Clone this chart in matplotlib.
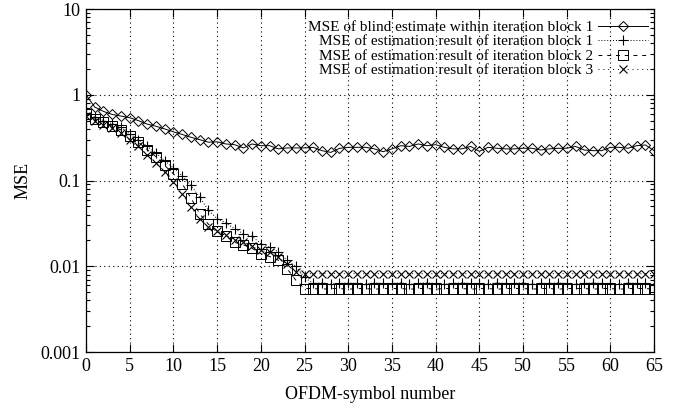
import matplotlib
matplotlib.use("Agg")
import matplotlib.pyplot as plt
from matplotlib.ticker import FixedLocator, FixedFormatter, LogLocator, NullFormatter

plt.rcParams['font.family'] = ['Liberation Serif', 'DejaVu Serif']
plt.rcParams['mathtext.fontset'] = 'stix'

symbols = list(range(66))

blind_block1 = [1.0, 0.72, 0.64, 0.59, 0.565, 0.54, 0.50, 0.455, 0.43, 0.40,
                0.37, 0.345, 0.32, 0.30, 0.28, 0.283, 0.267, 0.262, 0.24, 0.267,
                0.255, 0.255, 0.234, 0.240, 0.240, 0.240, 0.244, 0.223, 0.213, 0.237,
                0.244, 0.244, 0.244, 0.234, 0.217, 0.234, 0.255, 0.25, 0.267, 0.255,
                0.262, 0.244, 0.234, 0.234, 0.25, 0.219, 0.244, 0.238, 0.234, 0.234,
                0.238, 0.238, 0.227, 0.234, 0.238, 0.238, 0.25, 0.227, 0.223, 0.223,
                0.244, 0.244, 0.238, 0.255, 0.26, 0.223]

est_block1 = [0.62, 0.55, 0.50, 0.46, 0.42, 0.35, 0.30, 0.25, 0.21, 0.17,
              0.14, 0.114, 0.088, 0.064, 0.045, 0.036, 0.032, 0.0274, 0.024, 0.0223,
              0.0184, 0.0168, 0.0147, 0.0117, 0.0100, 0.0074, 0.0063, 0.0064, 0.0062, 0.0063,
              0.0064, 0.0063, 0.0062, 0.0064, 0.0063, 0.0063, 0.0064, 0.0062, 0.0063, 0.0064,
              0.0063, 0.0062, 0.0063, 0.0064, 0.0063, 0.0063, 0.0062, 0.0064, 0.0063, 0.0063,
              0.0064, 0.0062, 0.0063, 0.0063, 0.0064, 0.0063, 0.0062, 0.0063, 0.0064, 0.0063,
              0.0063, 0.0062, 0.0064, 0.0063, 0.0063, 0.0062]

est_block2 = [0.60, 0.52, 0.48, 0.43, 0.39, 0.33, 0.28, 0.23, 0.19, 0.15,
              0.12, 0.092, 0.063, 0.041, 0.031, 0.026, 0.0225, 0.019, 0.0178, 0.0162,
              0.014, 0.013, 0.0118, 0.0094, 0.0069, 0.0055, 0.0055, 0.0054, 0.0055, 0.0055,
              0.0054, 0.0055, 0.0055, 0.0054, 0.0055, 0.0055, 0.0055, 0.0054, 0.0055, 0.0055,
              0.0054, 0.0055, 0.0055, 0.0055, 0.0054, 0.0055, 0.0055, 0.0054, 0.0055, 0.0055,
              0.0055, 0.0054, 0.0055, 0.0055, 0.0054, 0.0055, 0.0055, 0.0055, 0.0054, 0.0055,
              0.0055, 0.0054, 0.0055, 0.0055, 0.0055, 0.0054]

est_block3 = [0.57, 0.50, 0.45, 0.41, 0.36, 0.30, 0.25, 0.20, 0.16, 0.125,
              0.095, 0.07, 0.049, 0.036, 0.0287, 0.0257, 0.0229, 0.0204, 0.0192, 0.0171,
              0.0153, 0.0147, 0.0128, 0.0105, 0.0086, 0.0082, 0.0082, 0.0082, 0.0082, 0.0082,
              0.0082, 0.0082, 0.0082, 0.0082, 0.0082, 0.0082, 0.0082, 0.0082, 0.0082, 0.0082,
              0.0082, 0.0082, 0.0082, 0.0082, 0.0082, 0.0082, 0.0082, 0.0082, 0.0082, 0.0082,
              0.0082, 0.0082, 0.0082, 0.0082, 0.0082, 0.0082, 0.0082, 0.0082, 0.0082, 0.0082,
              0.0082, 0.0082, 0.0082, 0.0082, 0.0082, 0.0082]

labels = ["MSE of blind estimate within iteration block 1",
          "MSE of estimation result of iteration block 1",
          "MSE of estimation result of iteration block 2",
          "MSE of estimation result of iteration block 3"]

x_ticks = list(range(0, 66, 5))
y_ticks = [0.001, 0.01, 0.1, 1, 10]
y_tick_labels = ["0.001", "0.01", "0.1", "1", "10"]

fig = plt.figure(figsize=(6.85, 4.12), dpi=100)
ax = fig.add_axes([0.1255, 0.1456, 0.955 - 0.1255, 0.978 - 0.1456])

lw = 0.7
ax.plot(symbols, blind_block1, color='black', lw=lw, ls='-', marker='D', ms=5,
        mfc='none', mec='black', mew=0.7, label=labels[0])
ax.plot(symbols, est_block1, color='black', lw=lw, ls=(0, (1, 2)), marker='+', ms=7,
        mew=0.8, label=labels[1])
ax.plot(symbols, est_block2, color='black', lw=lw, ls=(0, (4, 5)), marker='s', ms=6.5,
        mfc='none', mec='black', mew=0.7, label=labels[2])
ax.plot(symbols, est_block3, color='black', lw=lw, ls=(0, (1, 4)), marker='x', ms=6,
        mew=0.8, label=labels[3])

ax.set_yscale('log')
ax.set_xlim(0, 65)
ax.set_ylim(0.001, 10)

ax.xaxis.set_major_locator(FixedLocator(x_ticks))
ax.yaxis.set_major_locator(FixedLocator(y_ticks))
ax.yaxis.set_major_formatter(FixedFormatter(y_tick_labels))
ax.yaxis.set_minor_locator(LogLocator(base=10, subs=range(2, 10)))
ax.yaxis.set_minor_formatter(NullFormatter())

ax.tick_params(which='both', direction='in', top=True, right=True, labelsize=13, width=0.8)
ax.tick_params(which='major', length=6, pad=4)
ax.tick_params(which='minor', length=3)

ax.grid(True, which='major', color='black', ls=(0, (1, 3)), lw=0.8)

for s in ax.spines.values():
    s.set_linewidth(0.9)

ax.set_xlabel("OFDM-symbol number", fontsize=13, labelpad=8)
ax.set_ylabel("MSE", fontsize=13, labelpad=6)

leg = ax.legend(loc='upper right', bbox_to_anchor=(1.0, 0.985), frameon=False,
                markerfirst=False, fontsize=11, handlelength=3.3, handletextpad=0.3,
                labelspacing=0.05, borderaxespad=0.0)

fig.savefig("out.png", dpi=100)
